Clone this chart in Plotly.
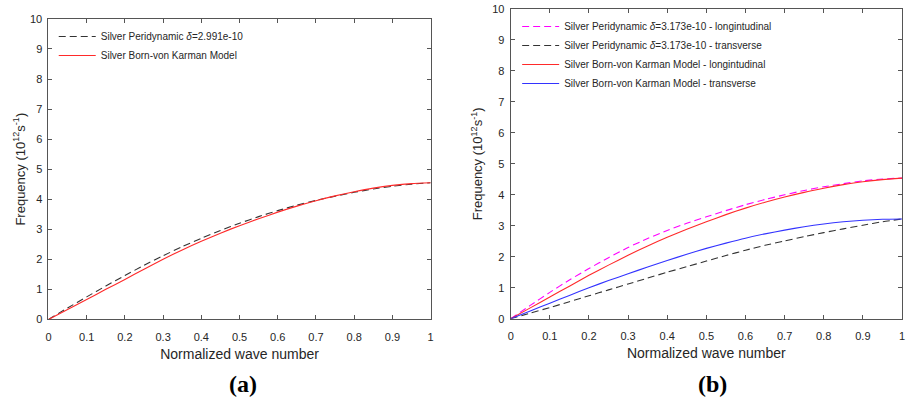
import plotly.graph_objects as go

# Normalized wave number samples
k = [0, 0.05, 0.1, 0.15, 0.2, 0.25, 0.3, 0.35, 0.4, 0.45, 0.5,
     0.55, 0.6, 0.65, 0.7, 0.75, 0.8, 0.85, 0.9, 0.95, 1.0]

# Panel (a)
a_peri = [0, 0.38, 0.75, 1.11, 1.46, 1.80, 2.12, 2.42, 2.70, 2.96, 3.20,
          3.42, 3.62, 3.80, 3.96, 4.10, 4.23, 4.34, 4.43, 4.50, 4.55]
a_bvk = [0, 0.33, 0.66, 1.00, 1.33, 1.67, 2.00, 2.31, 2.60, 2.87, 3.12,
         3.35, 3.57, 3.77, 3.95, 4.11, 4.25, 4.37, 4.46, 4.52, 4.55]

# Panel (b)
b_peri_long = [0, 0.43, 0.85, 1.25, 1.62, 1.97, 2.30, 2.59, 2.85, 3.08, 3.29,
               3.49, 3.68, 3.85, 4.00, 4.14, 4.26, 4.36, 4.45, 4.51, 4.54]
b_peri_trans = [0, 0.18, 0.36, 0.55, 0.74, 0.93, 1.12, 1.31, 1.50, 1.68, 1.86,
                2.04, 2.21, 2.37, 2.51, 2.65, 2.78, 2.90, 3.02, 3.13, 3.22]
b_bvk_long = [0, 0.35, 0.70, 1.05, 1.40, 1.73, 2.05, 2.35, 2.63, 2.89, 3.13,
              3.36, 3.57, 3.76, 3.93, 4.08, 4.21, 4.33, 4.42, 4.49, 4.54]
b_bvk_trans = [0, 0.25, 0.50, 0.75, 1.00, 1.23, 1.45, 1.67, 1.88, 2.08, 2.27,
               2.44, 2.60, 2.74, 2.86, 2.97, 3.06, 3.13, 3.18, 3.21, 3.22]

x_ticks = [0, 0.1, 0.2, 0.3, 0.4, 0.5, 0.6, 0.7, 0.8, 0.9, 1]
x_tick_text = ["0", "0.1", "0.2", "0.3", "0.4", "0.5", "0.6", "0.7", "0.8", "0.9", "1"]
y_ticks = [0, 1, 2, 3, 4, 5, 6, 7, 8, 9, 10]

W, H = 910, 404
ML, MR, MT, MB = 3, 4, 8, 8
PW, PH = W - ML - MR, H - MT - MB

def px(x):
    return (x - ML) / PW

def py(y):
    return min(1.0, 1 - (y - MT) / PH)

FONT = "Liberation Sans, Arial, sans-serif"
SERIF = "Liberation Serif, Times New Roman, serif"
TXT = "#262626"
AX = "#555555"
DASH = "7px,4px"

fig = go.Figure()

def add(x, y, name, color, dash, xa, ya, leg):
    fig.add_trace(go.Scatter(
        x=x, y=y, name=name, mode="lines", xaxis=xa, yaxis=ya, legend=leg,
        line=dict(color=color, width=1.1, dash=dash, shape="spline", smoothing=0.6),
    ))

add(k, a_peri, "Silver Peridynamic <i>δ</i>=2.991e-10", "#333333", DASH, "x", "y", "legend")
add(k, a_bvk, "Silver Born-von Karman Model", "#ff2a2a", "solid", "x", "y", "legend")

add(k, b_peri_long, "Silver Peridynamic <i>δ</i>=3.173e-10 - longintudinal", "#ff00ff", DASH, "x2", "y2", "legend2")
add(k, b_peri_trans, "Silver Peridynamic <i>δ</i>=3.173e-10 - transverse", "#333333", DASH, "x2", "y2", "legend2")
add(k, b_bvk_long, "Silver Born-von Karman Model - longintudinal", "#ff2a2a", "solid", "x2", "y2", "legend2")
add(k, b_bvk_trans, "Silver Born-von Karman Model - transverse", "#3333ff", "solid", "x2", "y2", "legend2")

def xax(domain, anchor):
    return dict(domain=domain, anchor=anchor, range=[0, 1], tickvals=x_ticks, ticktext=x_tick_text,
                ticks="inside", ticklen=4, tickcolor=AX, showline=True, linecolor=AX, linewidth=1,
                mirror="allticks", showgrid=False, zeroline=False, ticklabelstandoff=7,
                tickfont=dict(size=11, color=TXT, family=FONT),
                title=dict(text="Normalized wave number", font=dict(size=14, color=TXT, family=FONT), standoff=7))

def yax(domain, anchor, standoff):
    return dict(domain=domain, anchor=anchor, range=[0, 10], tickvals=y_ticks,
                ticks="inside", ticklen=4, tickcolor=AX, showline=True, linecolor=AX, linewidth=1,
                mirror="allticks", showgrid=False, zeroline=False, ticklabelstandoff=3,
                tickfont=dict(size=11, color=TXT, family=FONT),
                title=dict(text="Frequency (10<sup>12</sup>s<sup>-1</sup>)",
                           font=dict(size=13, color=TXT, family=FONT), standoff=standoff))

fig.update_layout(
    width=W, height=H,
    margin=dict(l=ML, r=MR, t=MT, b=MB),
    paper_bgcolor="white", plot_bgcolor="white",
    font=dict(family=FONT, color=TXT, size=11),
    xaxis=xax([px(45.7), px(430)], "y"),
    yaxis=yax([py(320), py(18)], "x", 1),
    xaxis2=xax([px(510.5), px(904)], "y2"),
    yaxis2=yax([py(319.3), py(7.3)], "x2", 6),
    legend=dict(x=px(51), y=py(21), xanchor="left", yanchor="top", itemwidth=37,
                bgcolor="rgba(0,0,0,0)", font=dict(size=10, color=TXT, family=FONT),
                tracegroupgap=0),
    legend2=dict(x=px(517), y=py(11), xanchor="left", yanchor="top", itemwidth=37,
                 bgcolor="rgba(0,0,0,0)", font=dict(size=10, color=TXT, family=FONT),
                 tracegroupgap=0),
    annotations=[
        dict(text="<b>(a)</b>", x=px(241), y=py(385), xref="paper", yref="paper",
             xanchor="center", yanchor="middle",
             showarrow=False, font=dict(size=24, family=SERIF, color="black")),
        dict(text="<b>(b)</b>", x=px(713), y=py(385), xref="paper", yref="paper",
             xanchor="center", yanchor="middle",
             showarrow=False, font=dict(size=24, family=SERIF, color="black")),
    ],
)

fig.write_html("out.html", post_script="document.body.style.margin='0';",
               config={"displayModeBar": False})
